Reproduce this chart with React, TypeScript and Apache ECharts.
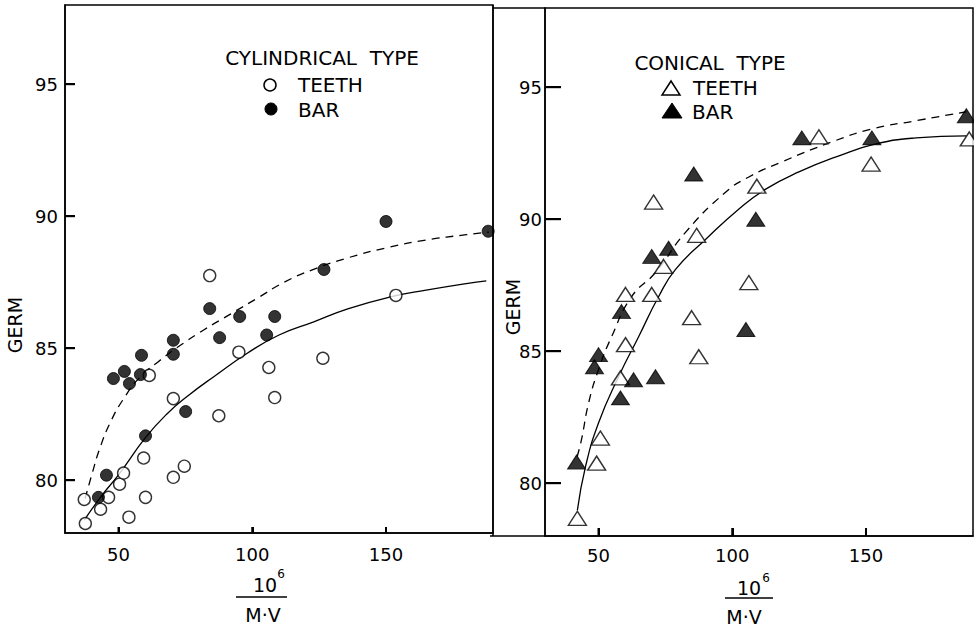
import React, { useEffect, useRef } from "react";
import * as echarts from "echarts";

// ---- data ----
const xTicks = [50, 100, 150];
const yTicks = [80, 85, 90, 95];
const X_MIN = 30;
const X_MAX = 190;
const Y_MIN = 78;
const Y_MAX = 98;

const cylTeeth = [
  [37.6, 78.36], [43.3, 78.9], [37.2, 79.27], [46.3, 79.35], [50.4, 79.85],
  [51.9, 80.27], [53.9, 78.6], [59.4, 80.84], [60.1, 79.35], [61.5, 83.97],
  [70.5, 83.09], [70.5, 80.11], [74.6, 80.53], [87.5, 82.44], [95, 84.85],
  [106.2, 84.27], [108.4, 83.13], [126.4, 84.62], [153.7, 87.0], [84.1, 87.75],
];
const cylBar = [
  [42.5, 79.35], [45.5, 80.19], [48.1, 83.85], [52.2, 84.12], [54.1, 83.66],
  [58.6, 84.73], [58.2, 84.0], [60.1, 81.68], [70.5, 85.3], [70.5, 84.77],
  [75.1, 82.6], [84.1, 86.5], [95.3, 86.2], [87.8, 85.4], [105.4, 85.5],
  [108.4, 86.2], [126.8, 87.98], [150, 89.8], [188.2, 89.43],
];
const cylTeethCurve = [
  [37.3, 78.5], [43.6, 79.4], [50, 80.2], [60, 81.6], [68, 82.5], [76, 83.2],
  [86, 83.95], [98, 84.8], [110, 85.5], [123, 86.0], [136, 86.5], [152, 86.95],
  [165, 87.2], [180, 87.45], [187.5, 87.55],
];
const cylBarCurve = [
  [37.5, 79.3], [40, 80.2], [43, 81.2], [47, 82.2], [52, 83.1], [58, 83.9],
  [65, 84.5], [73, 85.1], [82, 85.7], [92, 86.3], [102, 86.9], [112, 87.5],
  [122, 87.95], [135, 88.4], [150, 88.8], [165, 89.1], [180, 89.3], [188.5, 89.4],
];

const conTeeth = [
  [70.6, 90.65], [86.7, 89.39], [74.3, 88.21], [60.1, 87.15], [69.9, 87.15],
  [84.8, 86.27], [60.1, 85.25], [87.5, 84.79], [58.2, 83.99], [50.7, 81.71],
  [49.3, 80.76], [42.1, 78.67], [106.2, 87.6], [132.4, 93.12], [151.9, 92.09],
  [109.2, 91.25], [188.6, 93.04],
];
const conBar = [
  [85.6, 91.71], [69.9, 88.59], [76.2, 88.9], [58.6, 86.5], [50, 84.87],
  [48.5, 84.41], [63.1, 83.92], [71.3, 84.03], [58.2, 83.23], [41.8, 80.8],
  [126, 93.08], [152.2, 93.08], [108.8, 90.0], [105.1, 85.82], [187.5, 93.92],
];
const conTeethCurve = [
  [42.1, 78.97], [45.1, 80.61], [50, 82.28], [57.5, 84.03], [65, 85.55],
  [72.5, 87.07], [78.8, 88.1], [90.1, 89.24], [102.4, 90.38], [112.5, 91.14],
  [124.9, 91.79], [139.9, 92.4], [153.7, 92.85], [168.7, 93.08], [187.5, 93.16],
];
const conBarCurve = [
  [42.0, 81.0], [43.6, 81.63], [46.3, 83.04], [50, 84.3], [54.9, 85.55],
  [62.4, 87.07], [71.3, 87.98], [82.6, 89.51], [97.6, 91.03], [106.2, 91.6],
  [118.5, 92.17], [137.3, 92.93], [152.2, 93.42], [168.7, 93.73], [187.5, 94.07],
];

const FONT = '"DejaVu Sans", "Liberation Sans", sans-serif';
const BLACK = "#000";

function axisPair(gridIndex: number, xMargin: number, yMargin: number, yTickLen: number, xTickLen: number) {
  const lineStyle = { color: BLACK, width: 1.5 };
  const tickStyle = { color: BLACK, width: 2 };
  const x = {
    type: "value",
    gridIndex,
    min: X_MIN,
    max: X_MAX,
    axisLine: { show: true, onZero: false, lineStyle },
    axisTick: { show: true, inside: true, length: xTickLen, customValues: xTicks, lineStyle: tickStyle },
    axisLabel: { customValues: xTicks, margin: xMargin, color: BLACK, fontSize: 18, fontFamily: FONT },
    splitLine: { show: false },
  };
  const y = {
    type: "value",
    gridIndex,
    min: Y_MIN,
    max: Y_MAX,
    axisLine: { show: true, onZero: false, lineStyle },
    axisTick: { show: true, inside: true, length: yTickLen, customValues: yTicks, lineStyle: tickStyle },
    axisLabel: { customValues: yTicks, margin: yMargin, color: BLACK, fontSize: 18, fontFamily: FONT },
    splitLine: { show: false },
  };
  return { x, y };
}

function txt(text: string, x: number, y: number, size: number, align = "left", rotation = 0) {
  return {
    type: "text",
    x,
    y,
    rotation,
    z: 10,
    style: {
      text,
      x: 0,
      y: 0,
      fill: BLACK,
      font: `${size}px ${FONT}`,
      align,
      verticalAlign: "middle",
      textAlign: align,
      textVerticalAlign: "middle",
    },
  };
}

function seg(x1: number, y1: number, x2: number, y2: number, w = 1.5) {
  return { type: "line", z: 20, shape: { x1, y1, x2, y2 }, style: { stroke: BLACK, lineWidth: w } };
}

export default function App() {
  const ref = useRef<HTMLDivElement>(null);

  useEffect(() => {
    if (!ref.current) return;
    const chart = echarts.init(ref.current, undefined, { renderer: "svg" });
    const a0 = axisPair(0, 12, 7, 10, 6);
    const a1 = axisPair(1, 10, 3, 16, 8);

    const openStyle = { color: "#fff", borderColor: BLACK, borderWidth: 1.4 };
    const filledStyle = { color: BLACK, borderColor: BLACK, borderWidth: 1 };
    const fit = { smooth: 0.5, showSymbol: false, z: 2 };

    const staticGraphics: any[] = [
      // panel frame pieces
      seg(493, 5, 493, 536),
      seg(493, 8, 545, 8),
      seg(490, 536, 545, 536),
      // y axis names
      txt("GERM", 15, 325, 19, "center", Math.PI / 2),
      txt("GERM", 513, 307, 19, "center", Math.PI / 2),
      // left legend
      txt("CYLINDRICAL  TYPE", 322, 58, 20, "center"),
      { type: "circle", z: 10, shape: { cx: 270, cy: 85, r: 6 }, style: { fill: "#fff", stroke: BLACK, lineWidth: 1.5 } },
      txt("TEETH", 298, 85, 20),
      { type: "circle", z: 10, shape: { cx: 271, cy: 109, r: 6 }, style: { fill: BLACK, stroke: BLACK, lineWidth: 1 } },
      txt("BAR", 298, 110, 20),
      // right legend
      txt("CONICAL  TYPE", 710, 63, 20, "center"),
      { type: "polygon", z: 10, shape: { points: [[662, 95], [680, 95], [671, 81]] }, style: { fill: "#fff", stroke: BLACK, lineWidth: 1.5 } },
      txt("TEETH", 693, 88, 20),
      { type: "polygon", z: 10, shape: { points: [[662, 118], [682, 118], [672, 103]] }, style: { fill: BLACK, stroke: BLACK, lineWidth: 1 } },
      txt("BAR", 692, 112, 20),
      // left x axis name (fraction)
      txt("10", 265, 585, 19, "center"),
      txt("6", 281, 574, 12, "center"),
      seg(236, 597, 287, 597),
      txt("M·V", 263, 615, 19, "center"),
      // right x axis name (fraction)
      txt("10", 749, 588, 19, "center"),
      txt("6", 766, 578, 12, "center"),
      seg(725, 598, 773, 598),
      txt("M·V", 744, 617, 19, "center"),
    ];

    const option: any = {
      animation: false,
      backgroundColor: "#fff",
      grid: [
        { left: 65, top: 5, width: 428, height: 528, show: true, borderColor: BLACK, borderWidth: 1.5, backgroundColor: "transparent" },
        { left: 545, top: 8, width: 428, height: 528, show: true, borderColor: BLACK, borderWidth: 1.5, backgroundColor: "transparent" },
      ],
      xAxis: [a0.x, a1.x],
      yAxis: [a0.y, a1.y],
      series: [
        {
          name: "Cylindrical TEETH fit", type: "line", xAxisIndex: 0, yAxisIndex: 0,
          data: cylTeethCurve, ...fit,
          lineStyle: { color: BLACK, width: 1.3 },
        },
        {
          name: "Cylindrical BAR fit", type: "line", xAxisIndex: 0, yAxisIndex: 0,
          data: cylBarCurve, ...fit,
          lineStyle: { color: BLACK, width: 1.3, type: [8, 6] },
        },
        {
          name: "Cylindrical TEETH", type: "scatter", xAxisIndex: 0, yAxisIndex: 0,
          data: cylTeeth, symbol: "circle", symbolSize: 12, itemStyle: openStyle, z: 4,
        },
        {
          name: "Cylindrical BAR", type: "scatter", xAxisIndex: 0, yAxisIndex: 0,
          data: cylBar, symbol: "circle", symbolSize: 12, itemStyle: filledStyle, z: 5,
        },
        {
          name: "Conical TEETH fit", type: "line", xAxisIndex: 1, yAxisIndex: 1,
          data: conTeethCurve, ...fit,
          lineStyle: { color: BLACK, width: 1.3 },
        },
        {
          name: "Conical BAR fit", type: "line", xAxisIndex: 1, yAxisIndex: 1,
          data: conBarCurve, ...fit,
          lineStyle: { color: BLACK, width: 1.3, type: [8, 6] },
        },
        {
          name: "Conical TEETH", type: "scatter", xAxisIndex: 1, yAxisIndex: 1,
          data: conTeeth, symbol: "triangle", symbolSize: [18, 14], itemStyle: openStyle, z: 4,
        },
        {
          name: "Conical BAR", type: "scatter", xAxisIndex: 1, yAxisIndex: 1,
          data: conBar, symbol: "triangle", symbolSize: [18, 14], itemStyle: filledStyle, z: 5,
        },
      ],
      graphic: staticGraphics,
    };
    chart.setOption(option);

    // tick marks placed through the chart's own scales
    const tickEls: any[] = [];
    [
      { grid: 0, yLen: 10, xLen: 6 },
      { grid: 1, yLen: 16, xLen: 8 },
    ].forEach(({ grid, yLen, xLen }) => {
      yTicks.forEach((v) => {
        const p = chart.convertToPixel({ gridIndex: grid }, [X_MIN, v]) as number[];
        tickEls.push(seg(p[0], p[1], p[0] + yLen, p[1], 2));
      });
      xTicks.forEach((v) => {
        const p = chart.convertToPixel({ gridIndex: grid }, [v, Y_MIN]) as number[];
        tickEls.push(seg(p[0], p[1], p[0], p[1] - xLen, 2));
      });
    });
    chart.setOption({ graphic: [...staticGraphics, ...tickEls] });

    return () => chart.dispose();
  }, []);

  return (
    <div
      ref={ref}
      style={{ position: "absolute", left: 0, top: 0, width: 974, height: 629, background: "#fff" }}
    />
  );
}
